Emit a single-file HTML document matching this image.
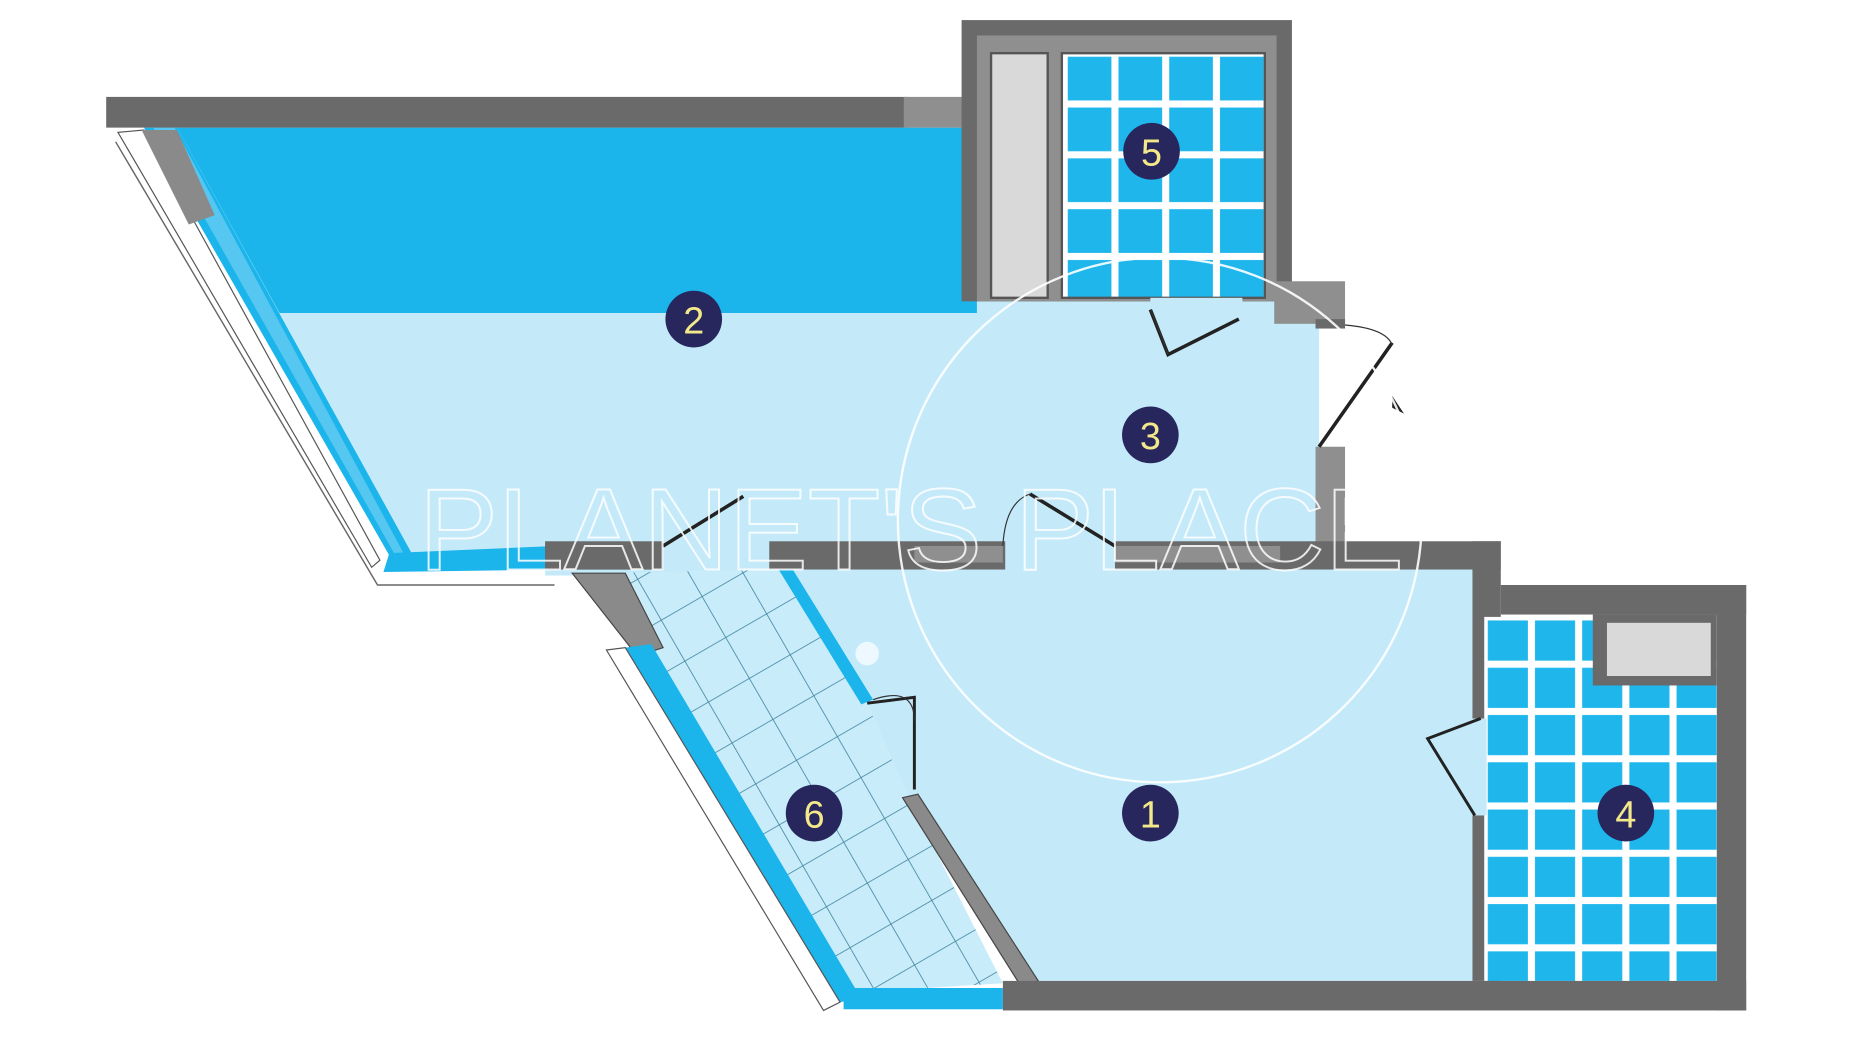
<!DOCTYPE html>
<html><head><meta charset="utf-8"><style>
html,body{margin:0;padding:0;background:#fff;width:1850px;height:1040px;overflow:hidden}
svg{display:block}
</style></head><body>
<svg width="1850" height="1040" viewBox="0 0 1568 880" preserveAspectRatio="none" xmlns="http://www.w3.org/2000/svg">
<defs>
<pattern id="t5" x="902" y="45" width="43" height="43" patternUnits="userSpaceOnUse">
<rect width="43" height="43" fill="#fff"/><rect x="3" y="3" width="37" height="37" fill="#1fb6ec"/>
</pattern>
<pattern id="t4" x="1258" y="522" width="40" height="40" patternUnits="userSpaceOnUse">
<rect width="40" height="40" fill="#fff"/><rect x="3" y="3" width="34" height="34" fill="#1fb6ec"/>
</pattern>
<pattern id="t6" width="40" height="40" patternUnits="userSpaceOnUse" patternTransform="translate(540,490) rotate(-30)">
<rect width="40" height="40" fill="#c8ecfa"/><path d="M0 0H40M0 0V40" stroke="#3a7f9a" stroke-width="1.3" fill="none"/>
</pattern>
</defs>
<rect width="1568" height="880" fill="#fff"/>

<polygon points="150,108 830,108 830,265 237,265" fill="#1bb5ec"/>
<polygon points="237,265 1118,265 1118,460 350,470" fill="#c4eafa"/>
<rect x="828" y="250" width="290" height="20" fill="#c4eafa"/>
<rect x="462" y="460" width="786" height="27" fill="#c4eafa"/>
<rect x="462" y="455" width="678" height="6" fill="#c4eafa"/>

<polygon points="122,108 150,108 350,470 330,470" fill="#1bb5ec"/>
<polygon points="130,108 148,108 342,468 334,468" fill="#7fd3f3" opacity="0.6"/>
<polygon points="100,112 122,110 322,474 315,480" fill="#fff" stroke="#555" stroke-width="1"/>
<polygon points="120,110 150,110 182,182 160,190" fill="#8a8a8a"/>
<polygon points="330,468 470,462 470,482 325,484" fill="#1bb5ec"/>
<polyline points="98,120 320,495 470,495" fill="none" stroke="#666" stroke-width="1.2"/>

<rect x="90" y="82" width="680" height="26" fill="#6a6a6a"/>
<rect x="766" y="82" width="62" height="26" fill="#8f8f8f"/>

<rect x="815" y="17" width="280" height="238" fill="#6a6a6a"/>
<rect x="828" y="30" width="254" height="225" fill="#8f8f8f"/>
<rect x="840" y="45" width="48" height="207" fill="#d9d9d9" stroke="#555" stroke-width="2"/>
<rect x="900" y="45" width="172" height="207" fill="url(#t5)" stroke="#555" stroke-width="2"/>
<rect x="1080" y="238" width="60" height="36" fill="#8f8f8f"/>
<rect x="1115" y="270" width="25" height="8" fill="#6a6a6a"/>
<rect x="975" y="252" width="78" height="18" fill="#c4eafa"/>
<path d="M975 262 L990 300 L1050 270" fill="none" stroke="#222" stroke-width="3"/>
<path d="M975 262 Q985 285 990 300" fill="none" stroke="#333" stroke-width="1"/>
<rect x="1115" y="378" width="25" height="82" fill="#8f8f8f"/>
<path d="M1118 378 L1180 290" stroke="#222" stroke-width="3"/>
<path d="M1140 275 Q1175 278 1180 292" fill="none" stroke="#333" stroke-width="1"/>
<path d="M1180 335 L1190 350 L1180 345 Z" fill="#222"/>

<rect x="462" y="458" width="100" height="24" fill="#6a6a6a"/>
<rect x="652" y="458" width="200" height="24" fill="#6a6a6a"/>
<rect x="775" y="462" width="75" height="14" fill="#8f8f8f"/>
<rect x="945" y="458" width="327" height="24" fill="#6a6a6a"/>
<rect x="945" y="462" width="140" height="14" fill="#8f8f8f"/>
<path d="M562 462 L630 420" stroke="#222" stroke-width="3"/>
<path d="M873 418 L945 462" stroke="#222" stroke-width="3"/>
<path d="M850 462 Q852 425 873 418" fill="none" stroke="#333" stroke-width="1"/>

<polygon points="665,482 1248,482 1248,830 875,830 770,675 735,595" fill="#c4eafa"/>
<polygon points="500,485 660,482 735,595 770,675 850,832 720,840 545,545" fill="url(#t6)"/>
<polygon points="660,482 672,482 740,592 730,596" fill="#1bb5ec"/>
<polygon points="485,485 530,485 562,548 540,555" fill="#8a8a8a" stroke="#444" stroke-width="1"/>
<polygon points="530,548 552,545 730,845 712,848" fill="#1bb5ec"/>
<polygon points="514,550 530,548 712,848 698,855" fill="#fff" stroke="#555" stroke-width="1"/>
<rect x="715" y="836" width="135" height="18" fill="#1bb5ec"/>
<polygon points="765,675 778,672 880,830 865,834" fill="#8a8a8a" stroke="#444" stroke-width="1"/>
<path d="M735 595 L775 590 L775 668" fill="none" stroke="#222" stroke-width="2.5"/>
<path d="M740 592 Q775 580 775 610" fill="none" stroke="#333" stroke-width="1"/>

<rect x="1248" y="458" width="24" height="372" fill="#6a6a6a"/>
<rect x="1272" y="495" width="208" height="25" fill="#6a6a6a"/>
<rect x="1455" y="495" width="25" height="360" fill="#6a6a6a"/>
<rect x="1258" y="522" width="197" height="308" fill="url(#t4)"/>
<rect x="1350" y="520" width="105" height="60" fill="#6a6a6a"/>
<rect x="1362" y="527" width="88" height="45" fill="#d9d9d9"/>
<rect x="1246" y="608" width="14" height="82" fill="#c4eafa"/>
<path d="M1255 608 L1210 625 L1250 690" fill="none" stroke="#222" stroke-width="2.5"/>
<rect x="850" y="830" width="630" height="25" fill="#6a6a6a"/>

<circle cx="983" cy="440" r="222" fill="none" stroke="#fff" stroke-width="2" opacity="0.9"/>
<circle cx="735" cy="553" r="10" fill="#fff" opacity="0.7"/>
<text x="355" y="482" font-family="Liberation Sans, sans-serif" font-size="98" fill="none" stroke="#fff" stroke-width="1.6" opacity="0.85" textLength="835" lengthAdjust="spacingAndGlyphs">PLANET'S PLACE</text>

<g font-family="Liberation Sans, sans-serif" font-size="32" fill="#f3e88a" text-anchor="middle">
<circle cx="588" cy="270" r="24" fill="#27275e"/><text x="588" y="282">2</text>
<circle cx="976" cy="128" r="24" fill="#27275e"/><text x="976" y="140">5</text>
<circle cx="975" cy="368" r="24" fill="#27275e"/><text x="975" y="380">3</text>
<circle cx="975" cy="688" r="24" fill="#27275e"/><text x="975" y="700">1</text>
<circle cx="1378" cy="688" r="24" fill="#27275e"/><text x="1378" y="700">4</text>
<circle cx="690" cy="688" r="24" fill="#27275e"/><text x="690" y="700">6</text>
</g>
</svg>
</body></html>
